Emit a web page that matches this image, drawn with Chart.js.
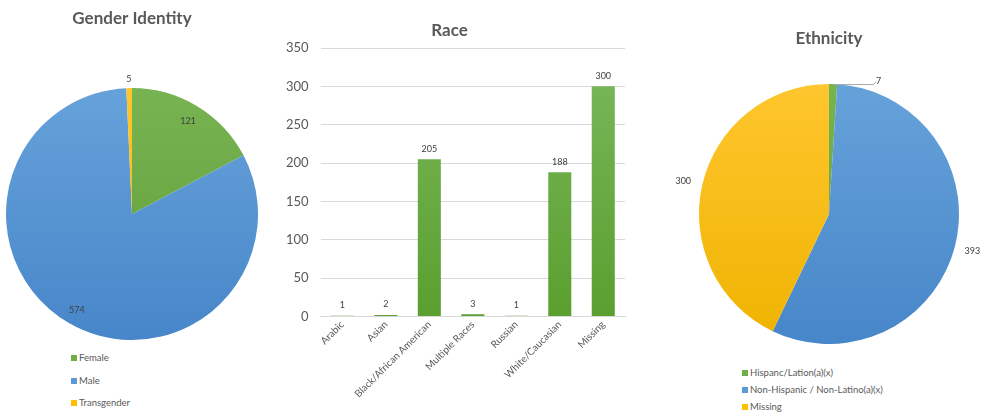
<!DOCTYPE html>
<html>
<head>
<meta charset="utf-8">
<script src="https://cdn.jsdelivr.net/npm/chart.js@4.4.1/dist/chart.umd.min.js"></script>
<style>
  html, body { margin: 0; padding: 0; background: #ffffff; }
  body { width: 999px; height: 419px; position: relative; overflow: hidden; font-family: Lato, "Open Sans", sans-serif; }
  .box { position: absolute; }
  .legend { position: absolute; font-family: Lato, "Open Sans", sans-serif; font-size: 9.5px; color: #595959; }
  .legend div { position: absolute; white-space: nowrap; line-height: 12px; }
  .legend span.sw { display: inline-block; width: 6px; height: 6px; margin-right: 2px; vertical-align: 0px; }
</style>
</head>
<body>
<div class="box" id="b1" style="left:0px;top:0px;width:264px;height:340px;"><canvas id="c1"></canvas></div>
<div class="box" id="b2" style="left:270px;top:0px;width:382px;height:402px;"><canvas id="c2"></canvas></div>
<div class="box" id="b3" style="left:659px;top:0px;width:340px;height:344px;"><canvas id="c3"></canvas></div>
<div class="legend" id="lg1" style="left:71px;top:352px;"></div>
<div class="legend" id="lg3" style="left:742px;top:367px;"></div>
<script>
// ---------------- DATA ----------------
const genderLabels = ["Female", "Male", "Transgender"];
const genderValues = [121, 574, 5];

const raceLabels = ["Arabic", "Asian", "Black/African American", "Multiple Races", "Russian", "White/Caucasian", "Missing"];
const raceValues = [1, 2, 205, 3, 1, 188, 300];
const raceTicks = [0, 50, 100, 150, 200, 250, 300, 350];

const ethnicityLabels = ["Hispanc/Lation(a)(x)", "Non-Hispanic / Non-Latino(a)(x)", "Missing"];
const ethnicityValues = [7, 393, 300];

// ---------------- STYLE ----------------
const FONT = 'Lato, "Open Sans", sans-serif';
const TEXT = '#595959';
const pieColors = [
  ['#78b352', '#5f9e37'],
  ['#66a2da', '#4786c9'],
  ['#ffc62e', '#efb300']
];
const solidColors = ['#70ad47', '#5b9bd5', '#ffc000'];

function vGrad(chart, top, bottom) {
  const a = chart.chartArea;
  if (!a) return top;
  const g = chart.ctx.createLinearGradient(0, a.top, 0, a.bottom);
  g.addColorStop(0, top);
  g.addColorStop(1, bottom);
  return g;
}

const pieLabelPlugin = {
  id: 'pieLabels',
  afterDatasetsDraw(chart, args, opts) {
    const ctx = chart.ctx;
    const meta = chart.getDatasetMeta(0);
    const ds = chart.data.datasets[0];
    ctx.save();
    ctx.font = '9px ' + FONT;
    ctx.fillStyle = '#404040';
    ctx.textAlign = 'center';
    ctx.textBaseline = 'middle';
    meta.data.forEach((arc, i) => {
      const p = arc.getProps(['x', 'y', 'startAngle', 'endAngle', 'outerRadius']);
      const mid = (p.startAngle + p.endAngle) / 2;
      const cfg = opts.cfg[i];
      const txt = String(ds.data[i]);
      if (cfg.leader) {
        const ax = p.x + Math.cos(mid) * p.outerRadius;
        const ay = p.y + Math.sin(mid) * p.outerRadius;
        ctx.strokeStyle = '#a6a6a6';
        ctx.lineWidth = 1;
        ctx.beginPath();
        ctx.moveTo(ax, ay + 0.5);
        ctx.lineTo(ax + cfg.leader, ay + 0.5);
        ctx.lineTo(ax + cfg.leader + 3, ay - 2);
        ctx.stroke();
        ctx.textAlign = 'left';
        ctx.fillText(txt, ax + cfg.leader + 3, ay - 3);
        ctx.textAlign = 'center';
      } else {
        const r = p.outerRadius * cfg.f;
        ctx.fillText(txt, p.x + Math.cos(mid) * r, p.y + Math.sin(mid) * r);
      }
    });
    ctx.restore();
  }
};

const barLabelPlugin = {
  id: 'barLabels',
  afterDatasetsDraw(chart) {
    const ctx = chart.ctx;
    const meta = chart.getDatasetMeta(0);
    const ds = chart.data.datasets[0];
    ctx.save();
    ctx.font = '9px ' + FONT;
    ctx.fillStyle = '#404040';
    ctx.textAlign = 'center';
    ctx.textBaseline = 'bottom';
    meta.data.forEach((bar, i) => {
      ctx.fillText(String(ds.data[i]), bar.x, bar.y - 6);
    });
    ctx.restore();
  }
};

function titleOpts(text, top, bottom) {
  return {
    display: true, text: text, color: TEXT,
    font: { family: FONT, size: 17, weight: 'bold', lineHeight: 1.2 },
    padding: { top: top, bottom: bottom }
  };
}

function pieConfig(labels, values, title, tTop, tBottom, labelCfg) {
  return {
    type: 'pie',
    data: {
      labels: labels,
      datasets: [{
        data: values,
        backgroundColor: (c) => vGrad(c.chart, pieColors[c.dataIndex][0], pieColors[c.dataIndex][1]),
        borderWidth: 0,
        hoverOffset: 0
      }]
    },
    options: {
      responsive: true, maintainAspectRatio: false, animation: false,
      layout: { padding: 0 },
      plugins: {
        legend: { display: false },
        tooltip: { enabled: false },
        title: titleOpts(title, tTop, tBottom),
        pieLabels: { cfg: labelCfg }
      }
    },
    plugins: [pieLabelPlugin]
  };
}

new Chart(document.getElementById('c1'), pieConfig(genderLabels, genderValues, 'Gender Identity', 8, 59.6,
  [{ f: 0.86 }, { f: 0.88 }, { f: 1.07 }]));

new Chart(document.getElementById('c3'), pieConfig(ethnicityLabels, ethnicityValues, 'Ethnicity', 28, 35.6,
  [{ leader: 40 }, { f: 1.14 }, { f: 1.15 }]));

new Chart(document.getElementById('c2'), {
  type: 'bar',
  data: {
    labels: raceLabels,
    datasets: [{
      data: raceValues,
      backgroundColor: (c) => vGrad(c.chart, '#7bb85c', '#5a9f2f'),
      borderWidth: 0,
      categoryPercentage: 1.0,
      barPercentage: 0.53
    }]
  },
  options: {
    responsive: true, maintainAspectRatio: false, animation: false,
    layout: { padding: { left: 4, right: 27, top: 0, bottom: 0 } },
    plugins: {
      legend: { display: false },
      tooltip: { enabled: false },
      title: titleOpts('Race', 20, 7.6)
    },
    scales: {
      y: {
        min: raceTicks[0], max: raceTicks[raceTicks.length - 1],
        afterBuildTicks: (axis) => { axis.ticks = raceTicks.map(v => ({ value: v })); },
        ticks: { color: TEXT, font: { family: FONT, size: 13 }, padding: 12 },
        grid: { color: '#d9d9d9', drawTicks: false, lineWidth: 1 },
        border: { display: false }
      },
      x: {
        ticks: { color: TEXT, font: { family: FONT, size: 10 }, minRotation: 45, maxRotation: 45, autoSkip: false, padding: 2 },
        grid: { display: false, drawTicks: false },
        border: { display: true, color: '#d9d9d9' }
      }
    }
  },
  plugins: [barLabelPlugin]
});

// ---------------- HTML LEGENDS ----------------
function buildLegend(id, labels, step) {
  const el = document.getElementById(id);
  labels.forEach((l, i) => {
    const d = document.createElement('div');
    d.style.top = (i * step) + 'px';
    d.style.left = '0px';
    const sw = document.createElement('span');
    sw.className = 'sw';
    sw.style.background = solidColors[i];
    d.appendChild(sw);
    d.appendChild(document.createTextNode(l));
    el.appendChild(d);
  });
}
buildLegend('lg1', genderLabels, 22.5);
buildLegend('lg3', ethnicityLabels, 17);
</script>
</body>
</html>
